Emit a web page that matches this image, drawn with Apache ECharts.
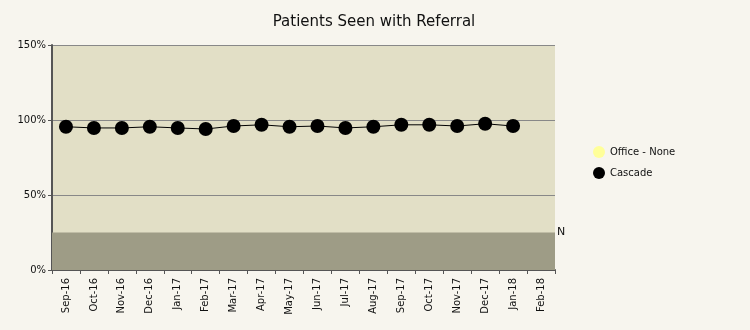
<!DOCTYPE html>
<html><head><meta charset="utf-8">
<script src="https://cdn.jsdelivr.net/npm/echarts@6/dist/echarts.min.js"></script>
<style>html,body{margin:0;padding:0;background:#f7f5ee;}#c{width:750px;height:330px;}</style>
</head><body><div id="c"></div>
<script>
const categories = ['Sep-16','Oct-16','Nov-16','Dec-16','Jan-17','Feb-17','Mar-17','Apr-17','May-17','Jun-17','Jul-17','Aug-17','Sep-17','Oct-17','Nov-17','Dec-17','Jan-18','Feb-18'];
const cascade = [95.5,94.7,94.7,95.5,94.7,94,96,96.8,95.5,96,94.7,95.5,96.8,96.8,96,97.5,96,null];
const officeNone = [];
const bandMax = 25;
const yTicks = [0,50,100,150];

const chart = echarts.init(document.getElementById('c'));
const F = "'DejaVu Sans', sans-serif";
chart.setOption({
  backgroundColor: '#f7f5ee',
  animation: false,
  title: { text: 'Patients Seen with Referral', left: 369, top: 10, textAlign: 'center',
    textStyle: { fontFamily: F, fontSize: 15, fontWeight: 'normal', color: '#111' } },
  legend: { orient: 'vertical', left: 588, top: 141, itemWidth: 12, itemHeight: 12, itemGap: 9,
    textStyle: { fontFamily: F, fontSize: 10, color: '#111' },
    data: [{ name: 'Office - None', icon: 'circle', itemStyle: { color: '#ffff99' } },
           { name: 'Cascade', icon: 'circle', itemStyle: { color: '#000' } }] },
  grid: { left: 52, right: 195, top: 45, bottom: 60, show: true, backgroundColor: '#e2dfc6', borderWidth: 0 },
  xAxis: { type: 'category', data: categories, boundaryGap: true,
    axisLine: { lineStyle: { color: '#555', width: 2 } },
    axisTick: { show: true, length: 4, lineStyle: { color: '#555' } },
    axisLabel: { rotate: 90, fontFamily: F, fontSize: 10, color: '#111', margin: 8 } },
  yAxis: { type: 'value', min: 0, max: 150, interval: 50,
    axisLine: { show: true, lineStyle: { color: '#555', width: 2 } },
    axisTick: { show: true, length: 4, lineStyle: { color: '#555' } },
    axisLabel: { fontFamily: F, fontSize: 10, color: '#111', margin: 6, formatter: v => yTicks.includes(v) ? v + '%' : '' },
    splitLine: { show: true, lineStyle: { color: '#888', width: 1 } } },
  series: [
    { name: 'Office - None', type: 'line', data: officeNone, symbol: 'circle', itemStyle: { color: '#ffff99' } },
    { name: 'Cascade', type: 'line', data: cascade, symbol: 'circle', symbolSize: 14, z: 5,
      itemStyle: { color: '#000' }, lineStyle: { color: '#000', width: 1 },
      markArea: { silent: true, itemStyle: { color: '#9e9c86' }, data: [[{ yAxis: 0 }, { yAxis: bandMax }]] },
      markLine: { silent: true, symbol: 'none', lineStyle: { color: 'rgba(0,0,0,0)', width: 0 },
        label: { show: true, position: 'end', formatter: 'N', fontFamily: F, fontSize: 11, color: '#111', distance: 2 },
        data: [{ yAxis: bandMax }] } }
  ]
});
</script></body></html>
